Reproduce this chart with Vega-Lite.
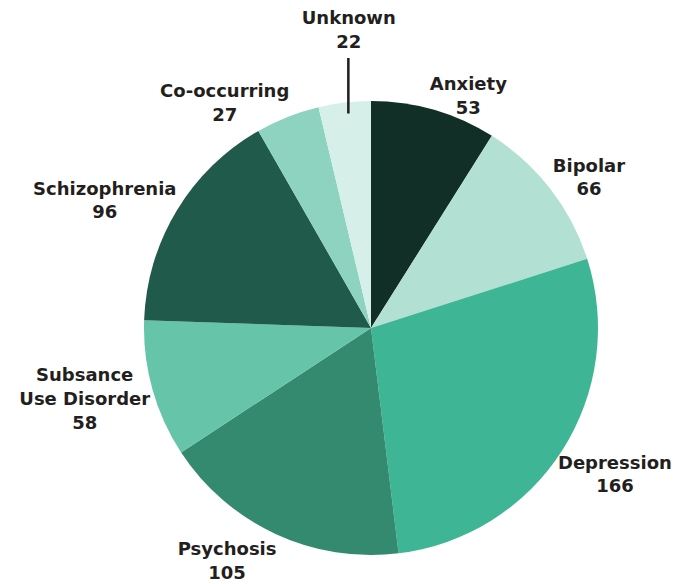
{
  "$schema": "https://vega.github.io/schema/vega-lite/v6.json",
  "width": 612,
  "height": 480,
  "padding": {"left": 65, "top": 88, "right": 0, "bottom": 16},
  "autosize": {"type": "none"},
  "background": "white",
  "config": {"view": {"stroke": null}},
  "data": {
    "values": [
      {"order": 1, "category": "Anxiety", "line1": "", "line2": "Anxiety", "value": 53},
      {"order": 2, "category": "Bipolar", "line1": "", "line2": "Bipolar", "value": 66},
      {"order": 3, "category": "Depression", "line1": "", "line2": "Depression", "value": 166},
      {"order": 4, "category": "Psychosis", "line1": "", "line2": "Psychosis", "value": 105},
      {"order": 5, "category": "Subsance Use Disorder", "line1": "Subsance", "line2": "Use Disorder", "value": 58},
      {"order": 6, "category": "Schizophrenia", "line1": "", "line2": "Schizophrenia", "value": 96},
      {"order": 7, "category": "Co-occurring", "line1": "", "line2": "Co-occurring", "value": 27},
      {"order": 8, "category": "Unknown", "line1": "", "line2": "Unknown", "value": 22}
    ]
  },
  "encoding": {
    "theta": {"field": "value", "type": "quantitative", "stack": true},
    "order": {"field": "order", "type": "quantitative"}
  },
  "layer": [
    {
      "mark": {"type": "arc", "outerRadius": 227, "stroke": null},
      "encoding": {
        "color": {
          "field": "category",
          "type": "nominal",
          "legend": null,
          "scale": {
            "domain": ["Anxiety", "Bipolar", "Depression", "Psychosis", "Subsance Use Disorder", "Schizophrenia", "Co-occurring", "Unknown"],
            "range": ["#112e27", "#b2e0d3", "#3eb594", "#338a6f", "#66c4a8", "#1f5a4b", "#8dd3bf", "#d6efe8"]
          }
        }
      }
    },
    {
      "mark": {"type": "text", "radius": 230, "baseline": "alphabetic", "align": "center", "font": "DejaVu Sans", "fontWeight": 200, "fontSize": 55, "color": "#231f20", "dx": 4},
      "encoding": {"text": {"condition": {"test": "datum.category !== 'Unknown'", "value": ""}, "value": "|"}}
    },
    {
      "mark": {"type": "text", "radius": 235, "baseline": "alphabetic", "align": "center", "font": "DejaVu Sans", "fontWeight": "bold", "fontSize": 18, "color": "#231f20",
               "dy": {"expr": "(datum.order >= 3 && datum.order <= 5 ? 14 : -12) - 24"},
               "dx": {"expr": "(datum.order <= 3 ? 4.6 : -5.0) * length(datum.line2)"}},
      "encoding": {"text": {"condition": {"test": "datum.category === 'Unknown'", "value": ""}, "field": "line1", "type": "nominal"}}
    },
    {
      "mark": {"type": "text", "radius": 235, "baseline": "alphabetic", "align": "center", "font": "DejaVu Sans", "fontWeight": "bold", "fontSize": 18, "color": "#231f20",
               "dy": {"expr": "datum.order >= 3 && datum.order <= 5 ? 14 : -12"},
               "dx": {"expr": "(datum.order <= 3 ? 4.6 : -5.0) * length(datum.line2)"}},
      "encoding": {"text": {"condition": {"test": "datum.category === 'Unknown'", "value": ""}, "field": "line2", "type": "nominal"}}
    },
    {
      "mark": {"type": "text", "radius": 235, "baseline": "alphabetic", "align": "center", "font": "DejaVu Sans", "fontWeight": "bold", "fontSize": 18, "color": "#231f20",
               "dy": {"expr": "(datum.order >= 3 && datum.order <= 5 ? 14 : -12) + 23.5"},
               "dx": {"expr": "(datum.order <= 3 ? 4.6 : -5.0) * length(datum.line2)"}},
      "encoding": {"text": {"condition": {"test": "datum.category === 'Unknown'", "value": ""}, "field": "value", "type": "quantitative"}}
    },
    {
      "mark": {"type": "text", "radius": 303, "baseline": "alphabetic", "align": "center", "font": "DejaVu Sans", "fontWeight": "bold", "fontSize": 18, "color": "#231f20", "dy": -3, "dx": 13},
      "encoding": {"text": {"condition": {"test": "datum.category !== 'Unknown'", "value": ""}, "field": "line2", "type": "nominal"}}
    },
    {
      "mark": {"type": "text", "radius": 303, "baseline": "alphabetic", "align": "center", "font": "DejaVu Sans", "fontWeight": "bold", "fontSize": 18, "color": "#231f20", "dy": 21, "dx": 13},
      "encoding": {"text": {"condition": {"test": "datum.category !== 'Unknown'", "value": ""}, "field": "value", "type": "quantitative"}}
    }
  ]
}
